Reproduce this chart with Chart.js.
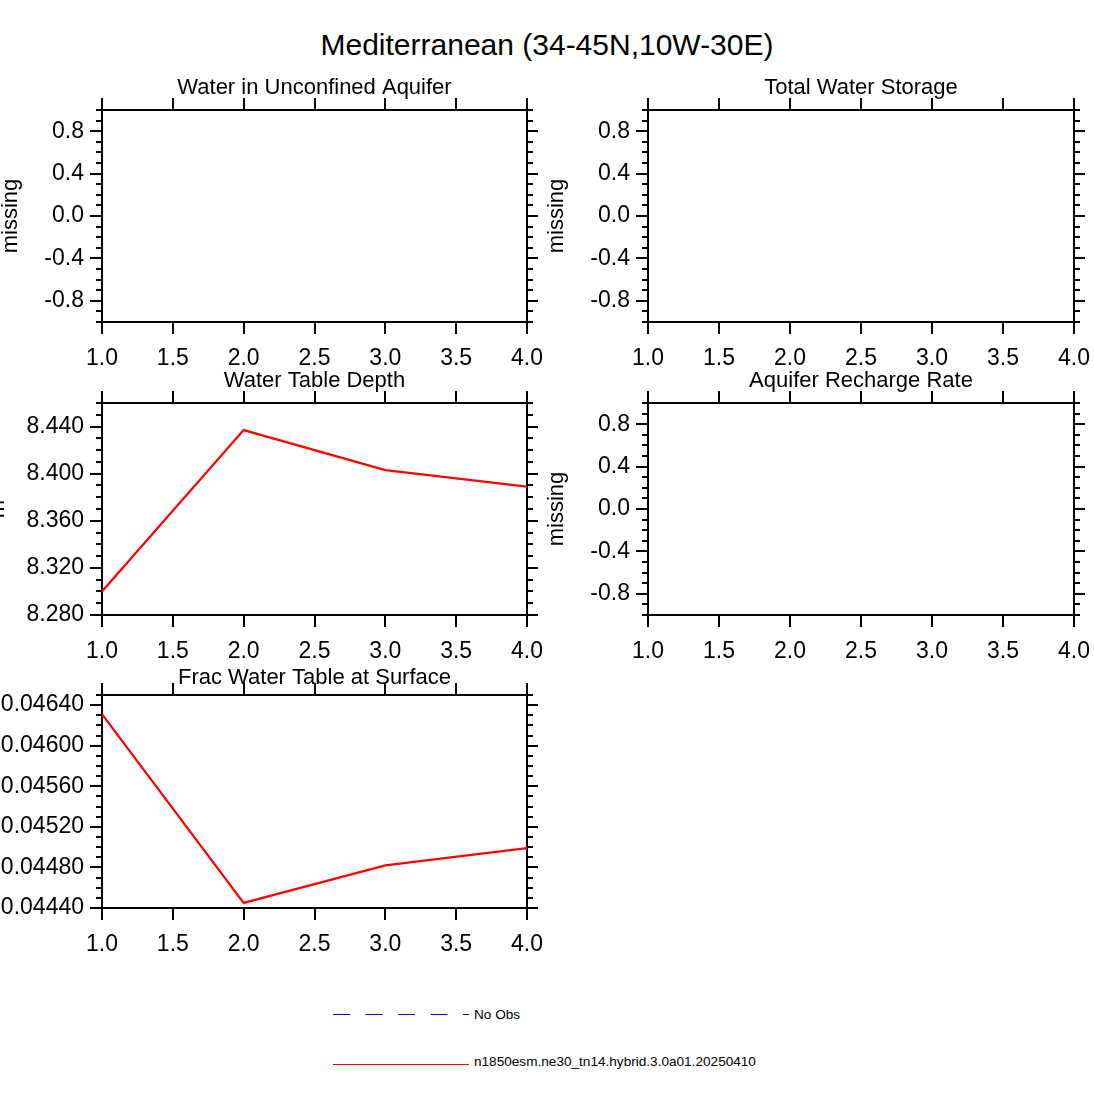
<!DOCTYPE html>
<html><head><meta charset="utf-8">
<script src="https://cdn.jsdelivr.net/npm/chart.js@4"></script>
<style>
html,body{margin:0;padding:0;background:#fff;overflow:hidden;}
body{width:1094px;height:1094px;position:relative;font-family:"Liberation Sans",Arial,sans-serif;color:#000;overflow:hidden;}
canvas{position:absolute;}
#title{position:absolute;left:0;width:1094px;top:29.6px;text-align:center;font-size:30px;line-height:30px;white-space:nowrap;}
.leg{position:absolute;left:474px;font-size:13.6px;line-height:14px;white-space:nowrap;}
</style></head><body>
<div id="title">Mediterranean (34-45N,10W-30E)</div>
<svg style="position:absolute;left:0;top:0" width="1094" height="1094">
  <line x1="333" y1="1014.5" x2="469" y2="1014.5" stroke="#0000ff" stroke-width="1" stroke-dasharray="17 15.5"/>
  <line x1="333" y1="1064.5" x2="469" y2="1064.5" stroke="#ff0000" stroke-width="1"/>
</svg>
<div class="leg" style="top:1007.8px">No Obs</div>
<div class="leg" style="top:1055px">n1850esm.ne30_tn14.hybrid.3.0a01.20250410</div>
<script>
// ---- data ----
const xValues = [1, 2, 3, 4];
const xTicks = [1.0, 1.5, 2.0, 2.5, 3.0, 3.5, 4.0];
const aquiferValues = [null, null, null, null];
const storageValues = [null, null, null, null];
const wtdValues = [8.300, 8.437, 8.403, 8.389];
const rechargeValues = [null, null, null, null];
const fracValues = [0.04631, 0.04445, 0.04482, 0.04499];
const missingTicks = [-0.8, -0.4, 0.0, 0.4, 0.8];
const wtdTicks = [8.28, 8.32, 8.36, 8.40, 8.44];
const fracTicks = [0.0444, 0.0448, 0.0452, 0.0456, 0.0460, 0.0464];
const panelTitles = ["Water in Unconfined Aquifer", "Total Water Storage", "Water Table Depth", "Aquifer Recharge Rate", "Frac Water Table at Surface"];
const yTitles = ["missing", "missing", "m", "missing", ""];
const modelName = "n1850esm.ne30_tn14.hybrid.3.0a01.20250410";

// ---- layout ----
const FONT = '"Liberation Sans", Arial, sans-serif';
Chart.defaults.font.family = FONT;
Chart.defaults.color = '#000';
const colLeft = [102, 648], colWidth = [425, 426];
const rowTop = [110, 403, 695], rowHeight = [212, 212, 213];
const T = 40, B = 60, R = 32;

const panelDecor = {
  id: 'panelDecor',
  afterDraw(chart, args, opts) {
    const {ctx, chartArea: a, scales} = chart;
    ctx.save();
    ctx.fillStyle = '#000';
    ctx.font = '22px ' + FONT;
    ctx.textAlign = 'center';
    ctx.textBaseline = 'alphabetic';
    ctx.fillText(opts.title, (a.left + a.right) / 2, a.top - opts.titleGap);
    ctx.strokeStyle = '#000';
    ctx.lineWidth = 2;
    const y = scales.y;
    const n = Math.round((y.max - y.min) / opts.minorStep);
    for (let i = 0; i <= n; i++) {
      const v = y.min + i * opts.minorStep;
      const p = Math.round(y.getPixelForValue(v));
      ctx.beginPath();
      ctx.moveTo(a.left - 6, p); ctx.lineTo(a.left, p);
      ctx.moveTo(a.right, p); ctx.lineTo(a.right + 6, p);
      ctx.stroke();
    }
    ctx.restore();
  }
};

function fixTicks(arr) { return (scale) => { scale.ticks = arr.map(v => ({value: v})); }; }

function makePanel(cfg) {
  const shift = cfg.shift || 0;
  const L = 102 + shift;
  const bw = colWidth[cfg.col], bh = rowHeight[cfg.row];
  const W = L + bw + R, H = T + bh + B;
  const cv = document.createElement('canvas');
  cv.width = W; cv.height = H;
  cv.style.left = (colLeft[cfg.col] - L) + 'px';
  cv.style.top = (rowTop[cfg.row] - T) + 'px';
  cv.style.width = W + 'px'; cv.style.height = H + 'px';
  document.body.appendChild(cv);
  const gridBase = {display: true, drawOnChartArea: false, drawTicks: true, color: '#000', tickColor: '#000', lineWidth: 2, tickWidth: 2};
  const border = {display: true, color: '#000', width: 2};
  new Chart(cv, {
    type: 'line',
    data: {
      labels: xValues,
      datasets: [{
        label: modelName,
        data: xValues.map((x, i) => ({x: x, y: cfg.values[i]})),
        borderColor: '#ff0000', borderWidth: 2.2, pointRadius: 0, tension: 0, fill: false,
        xAxisID: 'x', yAxisID: 'y'
      }]
    },
    options: {
      responsive: false, animation: false, devicePixelRatio: 1,
      layout: {padding: 0},
      plugins: {legend: {display: false}, tooltip: {enabled: false},
        panelDecor: {title: cfg.title, minorStep: cfg.minorStep, titleGap: cfg.titleGap}},
      scales: {
        x: {type: 'linear', position: 'bottom', min: 1, max: 4,
          afterBuildTicks: fixTicks(xTicks),
          afterFit: (s) => { s.height = B; },
          grid: Object.assign({}, gridBase, {tickLength: 12}), border: border,
          ticks: {autoSkip: false, maxRotation: 0, padding: 10.5, font: {size: 23}, callback: (v) => Number(v).toFixed(1)}},
        x2: {type: 'linear', position: 'top', min: 1, max: 4,
          afterBuildTicks: fixTicks(xTicks),
          afterFit: (s) => { s.height = T; },
          grid: Object.assign({}, gridBase, {tickLength: 12}), border: border,
          ticks: {display: false}},
        y: {type: 'linear', position: 'left', min: cfg.yMin, max: cfg.yMax,
          afterBuildTicks: fixTicks(cfg.yTicks),
          afterFit: (s) => { s.width = L; },
          grid: Object.assign({}, gridBase, {tickLength: 12}), border: border,
          title: {display: !!cfg.yTitle, text: cfg.yTitle, font: {size: 22, lineHeight: 1}, padding: 0},
          ticks: {autoSkip: false, padding: 6, font: {size: 23}, callback: (v) => Number(v).toFixed(cfg.yDec)}},
        y2: {type: 'linear', position: 'right', min: cfg.yMin, max: cfg.yMax,
          afterBuildTicks: fixTicks(cfg.yTicks),
          afterFit: (s) => { s.width = R; },
          grid: Object.assign({}, gridBase, {tickLength: 11}), border: border,
          ticks: {display: false}}
      }
    },
    plugins: [panelDecor]
  });
}

makePanel({col: 0, row: 0, title: panelTitles[0], titleGap: 16, yTitle: yTitles[0], yMin: -1, yMax: 1, yTicks: missingTicks, yDec: 1, minorStep: 0.1, values: aquiferValues});
makePanel({col: 1, row: 0, title: panelTitles[1], titleGap: 16, yTitle: yTitles[1], yMin: -1, yMax: 1, yTicks: missingTicks, yDec: 1, minorStep: 0.1, values: storageValues});
makePanel({col: 0, row: 1, title: panelTitles[2], titleGap: 16, yTitle: yTitles[2], yMin: 8.28, yMax: 8.46, yTicks: wtdTicks, yDec: 3, minorStep: 0.01, values: wtdValues, shift: 13});
makePanel({col: 1, row: 1, title: panelTitles[3], titleGap: 16, yTitle: yTitles[3], yMin: -1, yMax: 1, yTicks: missingTicks, yDec: 1, minorStep: 0.1, values: rechargeValues});
makePanel({col: 0, row: 2, title: panelTitles[4], titleGap: 11.5, yTitle: yTitles[4], yMin: 0.0444, yMax: 0.0465, yTicks: fracTicks, yDec: 5, minorStep: 0.0001, values: fracValues});
</script>
</body></html>
